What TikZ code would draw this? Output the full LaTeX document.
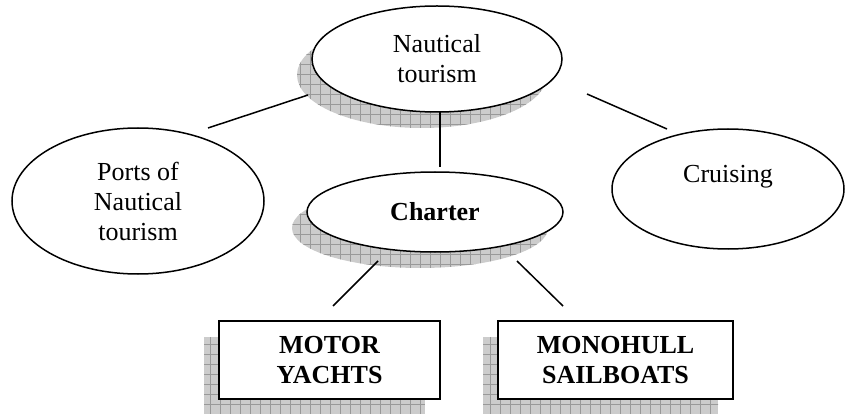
\documentclass[tikz,border=0pt]{standalone}
\usepackage{fontspec}
\setmainfont{Liberation Serif}
\usetikzlibrary{shapes.geometric, shadows, patterns.meta}

\begin{document}
\begin{tikzpicture}
        [
            x=1pt, y=-1pt,
            shad/.style = {general shadow={shadow xshift=-15pt, shadow yshift=-16pt, fill=gray!40},
                           general shadow={shadow xshift=-15pt, shadow yshift=-16pt, pattern={Hatch[distance=10pt, line width=0.5pt]}, pattern color=gray!80}},
            bubble/.style = {draw, shape=ellipse, fill=white, inner sep=0pt, line width=1.5pt, align=center, font=\fontsize{26}{30}\selectfont},
            square/.style = {draw, shape=rectangle, fill=white, inner sep=0pt, line width=1.5pt, align=center, font=\fontsize{26}{30}\selectfont\bfseries},
            link/.style = {line width=1.5pt},
        ]

        \useasboundingbox (0,0) rectangle (846,414);

        \node[bubble, shad, minimum width=250pt, minimum height=106pt] (naut) at (437,59) {Nautical\\tourism};
        \node[bubble, minimum width=252pt, minimum height=146pt] (ports) at (138,201) {Ports of\\Nautical\\tourism};
        \node[bubble, minimum width=232pt, minimum height=120pt] (cruise) at (728,189) {Cruising\\~};
        \node[bubble, shad, minimum width=256pt, minimum height=80pt] (charter) at (435,212) {\bfseries Charter};

        \node[square, shad, minimum width=221pt, minimum height=78pt] (motor) at (329.5,360) {MOTOR\\YACHTS};
        \node[square, shad, minimum width=235pt, minimum height=78pt] (mono) at (615.5,360) {MONOHULL\\SAILBOATS};

        % free line ends
        \coordinate (np) at (308,95);
        \coordinate (pn) at (208,128);
        \coordinate (nc) at (587,94);
        \coordinate (cn) at (667,129);
        \coordinate (nv) at (440,112);
        \coordinate (vc) at (440,167);
        \coordinate (cm) at (378,261);
        \coordinate (mc) at (333,306);
        \coordinate (cs) at (517,261);
        \coordinate (sc) at (563,306);

        \draw [link] (np) -- (pn);
        \draw [link] (nc) -- (cn);
        \draw [link] (nv) -- (vc);
        \draw [link] (cm) -- (mc);
        \draw [link] (cs) -- (sc);
    \end{tikzpicture}
\end{document}
